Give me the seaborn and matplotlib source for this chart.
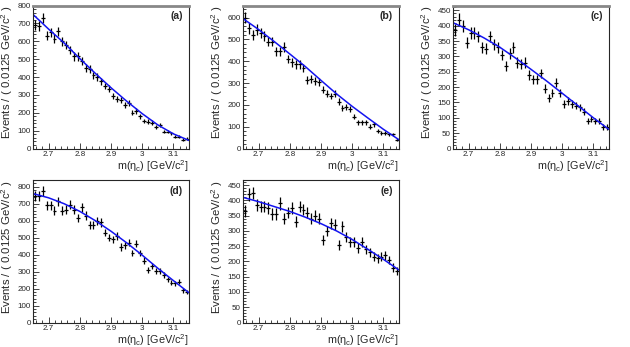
import numpy as np
import pandas as pd
import matplotlib
matplotlib.use("Agg")
import matplotlib.pyplot as plt
from matplotlib.ticker import MultipleLocator
import seaborn as sns

sns.set_style("ticks")
plt.rcParams['font.family'] = ['Liberation Sans', 'DejaVu Sans']
plt.rcParams['mathtext.fontset'] = 'custom'
plt.rcParams['mathtext.rm'] = 'Liberation Sans'
plt.rcParams['mathtext.it'] = 'Liberation Sans'

# bin centres: 40 bins of 0.0125 GeV/c^2 from 2.65 to 3.15
bin_lo = 2.65
bin_w = 0.0125
n_bins = 40
mass = [round(bin_lo + (i + 0.5) * bin_w, 5) for i in range(n_bins)]

# events per bin
ev_a = [690, 685, 730, 630, 650, 615, 655, 600, 580, 550,
        515, 515, 490, 450, 445, 410, 400, 375, 350, 335,
        295, 275, 270, 245, 255, 200, 210, 180, 155, 150,
        145, 120, 130, 95, 95, 85, 65, 65, 50, 55]
ev_b = [600, 550, 520, 545, 530, 515, 490, 490, 445, 445,
        465, 410, 395, 385, 385, 370, 315, 320, 310, 305,
        270, 250, 240, 250, 215, 185, 190, 180, 145, 120,
        120, 120, 100, 110, 80, 70, 70, 65, 65, 40]
ev_c = [385, 420, 400, 345, 375, 375, 365, 330, 325, 365,
        340, 330, 305, 270, 310, 330, 280, 275, 280, 240,
        225, 225, 245, 195, 165, 180, 215, 180, 145, 155,
        145, 140, 135, 120, 90, 95, 90, 90, 70, 70]
ev_d = [745, 745, 775, 690, 690, 660, 715, 660, 665, 695,
        665, 615, 680, 630, 575, 575, 600, 590, 530, 500,
        490, 510, 445, 455, 470, 410, 465, 410, 365, 310,
        335, 305, 305, 280, 255, 235, 230, 240, 190, 180]
ev_e = [365, 420, 425, 385, 380, 380, 375, 355, 355, 390,
        340, 360, 375, 330, 380, 370, 360, 340, 350, 340,
        270, 300, 325, 320, 255, 315, 280, 265, 265, 245,
        265, 240, 230, 215, 210, 215, 220, 205, 180, 170]

# fitted background curve, sampled every 0.05
fit_m = [2.65, 2.70, 2.75, 2.80, 2.85, 2.90, 2.95, 3.00, 3.05, 3.10, 3.15]
fit_a = [750, 668, 590, 503, 420, 340, 265, 195, 132, 82, 45]
fit_b = [595, 545, 490, 433, 375, 312, 250, 193, 140, 88, 40]
fit_c = [410, 387, 360, 330, 295, 258, 220, 180, 140, 100, 62]
fit_d = [760, 735, 700, 655, 600, 538, 470, 397, 320, 247, 175]
fit_e = [410, 396, 380, 364, 345, 324, 300, 272, 240, 207, 172]

panels = ['(a)', '(b)', '(c)', '(d)', '(e)']
events = [ev_a, ev_b, ev_c, ev_d, ev_e]
fits = [fit_a, fit_b, fit_c, fit_d, fit_e]
ymax = [800, 655, 466, 840, 467]
ystep = [100, 100, 50, 100, 50]

fig = plt.figure(figsize=(6.3, 3.47), dpi=100)
W, H = 630.0, 347.0
# axes boxes in pixels: left, top, right, bottom
boxes = [(33, 5.5, 189, 148.5), (243, 5.5, 399, 148.5), (453, 5.5, 609, 148.5),
         (33, 180, 189, 322.5), (243, 180, 399, 322.5)]

for k in range(5):
    l, t, r, b = boxes[k]
    hpx = b - t
    wpx = r - l
    ax = fig.add_axes([l / W, 1 - b / H, wpx / W, hpx / H])
    df = pd.DataFrame({'m': mass, 'n': events[k]})
    ax.errorbar(df['m'], df['n'], xerr=bin_w / 2, yerr=np.sqrt(df['n']),
                fmt='none', ecolor='black', elinewidth=0.9, capsize=0)
    fdf = pd.DataFrame({'m': fit_m, 'n': fits[k]})
    sns.lineplot(data=fdf, x='m', y='n', color='#1414f0', lw=1.1, ax=ax)
    ax.set_xlim(2.65, 3.15)
    ax.set_ylim(0, ymax[k])
    ax.xaxis.set_minor_locator(MultipleLocator(0.02))
    ax.yaxis.set_major_locator(MultipleLocator(ystep[k]))
    ax.yaxis.set_minor_locator(MultipleLocator(ystep[k] / 5))
    ax.set_xticks([2.7, 2.8, 2.9, 3.0, 3.1])
    ax.set_xticklabels(['2.7', '2.8', '2.9', '3', '3.1'])
    ax.tick_params(which='both', direction='in', labelsize=5.8, pad=1.5,
                   width=0.6)
    ax.tick_params(which='major', length=4)
    ax.tick_params(which='minor', length=2)
    for s in ax.spines.values():
        s.set_linewidth(0.8)
    if k < 3:
        ax.spines['top'].set_color('#888888')
        ax.spines['top'].set_linewidth(2)
    ax.set_xlabel('m(η$_{\\mathrm{c}}$) [GeV/c$^{2}$]', fontsize=7.8,
                  loc='right')
    ax.xaxis.set_label_coords(1.0, -10.0 / hpx)
    ax.set_ylabel('Events / ( 0.0125 GeV/c$^{2}$ )', fontsize=8.2,
                  loc='top')
    ax.yaxis.set_label_coords(-18.0 / wpx, 1.0)
    ax.text(0.96, 0.96, panels[k], transform=ax.transAxes, ha='right',
            va='top', fontsize=7.5, fontweight='bold')

fig.savefig('out.png', dpi=100)
